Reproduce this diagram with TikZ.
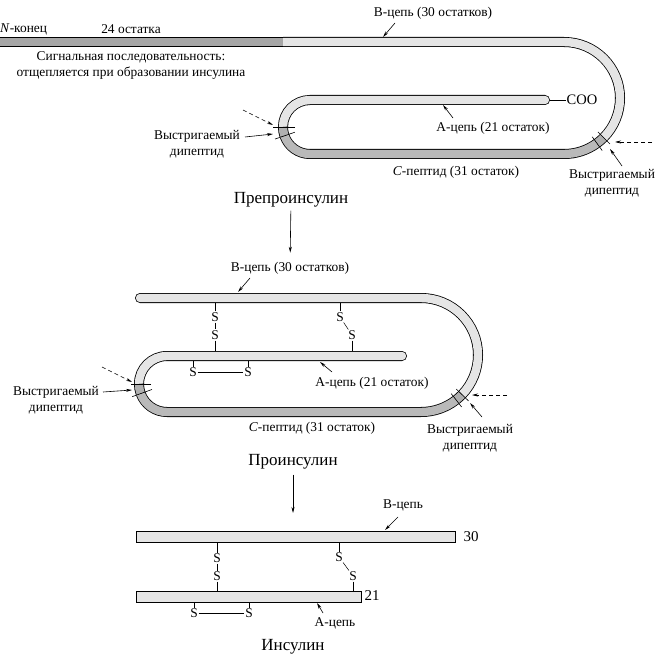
\documentclass[tikz,border=0pt]{standalone}
\usepackage{fontspec}
\setmainfont{Liberation Serif}
\usetikzlibrary{arrows.meta}

\begin{document}
\begin{tikzpicture}[
    x=1pt, y=1pt,
    every node/.style={font=\fontsize{13.4}{16}\selectfont, inner sep=1pt},
    title/.style={font=\fontsize{17}{20}\selectfont},
    tube/.style={draw=black, line width=0.8pt, double distance=8.4pt},
    light/.style={tube, double=gray!20},
    dark/.style={tube, double=gray!55},
    dip/.style={tube, double=gray!62},
    signal/.style={tube, double=gray!70},
    cut/.style={line width=0.6pt},
    arrow/.style={-{Stealth[length=6pt,width=3pt]}, line width=0.6pt},
    dasharrow/.style={arrow, dash pattern=on 4pt off 3pt},
    bar/.style={rectangle, draw, line width=0.8pt, fill=gray!20, inner sep=0pt, minimum height=11pt},
    sulf/.style={inner sep=0.8pt},
    bond/.style={line width=0.5pt}
]

\useasboundingbox (0,0) rectangle (669,-663);

% ---------- preproinsulin ----------
\coordinate (preR) at (564,-98);
\coordinate (preL) at (310,-127);

\draw[light, line cap=round] ([shift={(180:27)}]preL) arc[start angle=180, end angle=90, radius=27] -- (545,-100);
\draw[signal] (0,-42) -- (283,-42);
\draw[light] (283,-42) -- (564,-42) arc[start angle=90, end angle=-45, radius=56];
\draw[dip] ([shift={(-45:56)}]preR) arc[start angle=-45, end angle=-54, radius=56];
\draw[dark] ([shift={(-54:56)}]preR) arc[start angle=-54, end angle=-90, radius=56] -- (310,-154)
    arc[start angle=-90, end angle=-161, radius=27];
\draw[dip] ([shift={(-161:27)}]preL) arc[start angle=-161, end angle=-180, radius=27];

\draw[cut] ([shift={(-45:48)}]preR) -- ([shift={(-45:65)}]preR);
\draw[cut] ([shift={(-54:48)}]preR) -- ([shift={(-54:65)}]preR);
\draw[cut] ([shift={(180:15)}]preL) -- ([shift={(180:37)}]preL);
\draw[cut] ([shift={(-161:16)}]preL) -- ([shift={(-161:37)}]preL);

\node[font=\fontsize{14.5}{17}\selectfont] (coo) at (582,-100) {COO};
\coordinate (aEnd) at (550,-100);
\draw[bond] (aEnd) -- (coo);

\node[anchor=west, inner sep=0pt] (nend) at (0,-29) {\textit{N}-конец};
\node (res24) at (131,-29) {24 остатка};
\node[align=center] (sig) at (131,-66) {Сигнальная последовательность:\\отщепляется при образовании инсулина};
\node (bpre) at (433,-13) {В-цепь (30 остатков)};
\node (apre) at (493,-128) {А-цепь (21 остаток)};
\node (cpre) at (456,-172) {\textit{C}-пептид (31 остаток)};
\node[align=center] (dpreL) at (197,-144.5) {Выстригаемый\\дипептид};
\node[align=center] (dpreR) at (612,-183.5) {Выстригаемый\\дипептид};
\node[title] (prepro) at (291,-200) {Препроинсулин};

\coordinate (bpreFrom) at (395,-23);  \coordinate (bpreTo) at (383,-37);
\coordinate (apreFrom) at (453,-118); \coordinate (apreTo) at (443,-105);
\coordinate (cutRFrom) at (652,-142); \coordinate (cutRTo) at (615,-142);
\coordinate (dRFrom) at (622,-166);   \coordinate (dRTo) at (610,-149);
\coordinate (cutLFrom) at (243,-110); \coordinate (cutLTo) at (273,-125);
\coordinate (dLFrom) at (245,-137);   \coordinate (dLTo) at (273,-134);

\draw[arrow] (bpreFrom) -- (bpreTo);
\draw[arrow] (apreFrom) -- (apreTo);
\draw[dasharrow] (cutRFrom) -- (cutRTo);
\draw[arrow] (dRFrom) -- (dRTo);
\draw[dasharrow] (cutLFrom) -- (cutLTo);
\draw[arrow] (dLFrom) -- (dLTo);

% ---------- proinsulin ----------
\coordinate (proR) at (421,-355);
\coordinate (proL) at (167,-384);

\draw[light, line cap=round] ([shift={(180:28)}]proL) arc[start angle=180, end angle=90, radius=28] -- (402,-356);
\draw[light, line cap=round] (140,-298) -- (421,-298) arc[start angle=90, end angle=-44, radius=57];
\draw[dip] ([shift={(-44:57)}]proR) arc[start angle=-44, end angle=-52, radius=57];
\draw[dark] ([shift={(-52:57)}]proR) arc[start angle=-52, end angle=-90, radius=57] -- (167,-412)
    arc[start angle=-90, end angle=-160, radius=28];
\draw[dip] ([shift={(-160:28)}]proL) arc[start angle=-160, end angle=-180, radius=28];

\draw[cut] ([shift={(-44:49)}]proR) -- ([shift={(-44:66)}]proR);
\draw[cut] ([shift={(-52:49)}]proR) -- ([shift={(-52:66)}]proR);
\draw[cut] ([shift={(180:16)}]proL) -- ([shift={(180:36)}]proL);
\draw[cut] ([shift={(-160:16)}]proL) -- ([shift={(-160:37)}]proL);

\coordinate (bproBot) at (0,-303);
\coordinate (aproTop) at (0,-351);
\coordinate (aproBot) at (0,-361);
\node[sulf] (ps1) at (215,-317) {S};
\node[sulf] (ps2) at (215,-335) {S};
\node[sulf] (ps3) at (340,-317) {S};
\node[sulf] (ps4) at (352,-335) {S};
\node[sulf] (ps5) at (193,-372) {S};
\node[sulf] (ps6) at (248,-372) {S};
\draw[bond] (ps1) -- (ps1 |- bproBot);
\draw[bond] (ps1) -- (ps2);
\draw[bond] (ps2) -- (ps2 |- aproTop);
\draw[bond] (ps3) -- (ps3 |- bproBot);
\draw[bond] (ps3) -- (ps4);
\draw[bond] (ps4) -- (ps4 |- aproTop);
\draw[bond] (ps5) -- (ps5 |- aproBot);
\draw[bond] (ps6) -- (ps6 |- aproBot);
\draw[bond] (ps5) -- (ps6);

\node (bpro) at (290,-268) {В-цепь (30 остатков)};
\node (apro) at (372,-383) {А-цепь (21 остаток)};
\node (cpro) at (312,-428) {\textit{C}-пептид (31 остаток)};
\node[align=center] (dproL) at (56,-400) {Выстригаемый\\дипептид};
\node[align=center] (dproR) at (470,-438.5) {Выстригаемый\\дипептид};
\node[title] (pro) at (293,-462) {Проинсулин};

\coordinate (bproFrom) at (250,-278);  \coordinate (bproTo) at (238,-292);
\coordinate (aproFrom) at (332,-372);  \coordinate (aproTo) at (320,-362);
\coordinate (pcutLFrom) at (102,-367); \coordinate (pcutLTo) at (132,-382);
\coordinate (pdLFrom) at (103,-392);   \coordinate (pdLTo) at (132,-390);
\coordinate (pcutRFrom) at (507,-395); \coordinate (pcutRTo) at (472,-395);
\coordinate (pdRFrom) at (482,-417);   \coordinate (pdRTo) at (470,-403);

\draw[arrow, shorten <=2pt, shorten >=8pt] (prepro) -- (bpro);
\draw[arrow] (bproFrom) -- (bproTo);
\draw[arrow] (aproFrom) -- (aproTo);
\draw[dasharrow] (pcutLFrom) -- (pcutLTo);
\draw[arrow] (pdLFrom) -- (pdLTo);
\draw[dasharrow] (pcutRFrom) -- (pcutRTo);
\draw[arrow] (pdRFrom) -- (pdRTo);

% ---------- insulin ----------
\node[bar, minimum width=319pt] (bins) at (295.5,-536.5) {};
\node[bar, minimum width=225pt] (ains) at (248.5,-596.5) {};
\node[font=\fontsize{15}{17}\selectfont] (n30) at (471,-537) {30};
\node[font=\fontsize{15}{17}\selectfont] (n21) at (372,-596) {21};

\node[sulf] (s1) at (217,-558) {S};
\node[sulf] (s2) at (217,-576) {S};
\node[sulf] (s3) at (339,-557) {S};
\node[sulf] (s4) at (353,-576) {S};
\node[sulf] (s5) at (194,-613) {S};
\node[sulf] (s6) at (249,-613) {S};
\draw[bond] (s1) -- (s1 |- bins.south);
\draw[bond] (s1) -- (s2);
\draw[bond] (s2) -- (s2 |- ains.north);
\draw[bond] (s3) -- (s3 |- bins.south);
\draw[bond] (s3) -- (s4);
\draw[bond] (s4) -- (s4 |- ains.north);
\draw[bond] (s5) -- (s5 |- ains.south);
\draw[bond] (s6) -- (s6 |- ains.south);
\draw[bond] (s5) -- (s6);

\node (binsLab) at (403,-505) {В-цепь};
\node (ainsLab) at (335,-623) {А-цепь};
\node[title] (ins) at (293,-647) {Инсулин};

\coordinate (insTop) at (293,-513);
\coordinate (binsFrom) at (398,-517); \coordinate (binsTo) at (385,-530);
\coordinate (ainsFrom) at (323,-613); \coordinate (ainsTo) at (317,-603);

\draw[arrow, shorten <=4pt] (pro) -- (insTop);
\draw[arrow] (binsFrom) -- (binsTo);
\draw[arrow] (ainsFrom) -- (ainsTo);

\end{tikzpicture}
\end{document}
